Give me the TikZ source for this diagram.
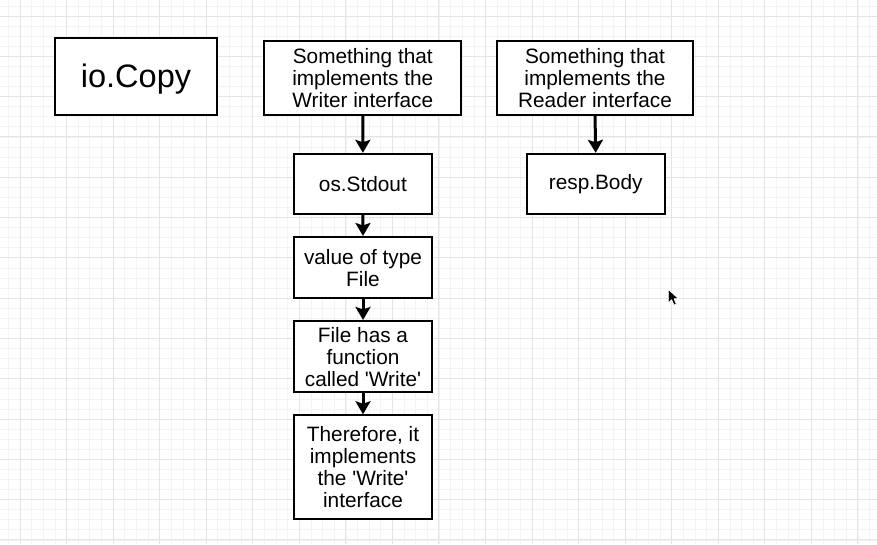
\documentclass[tikz,border=0pt]{standalone}
\usepackage{fontspec}
\setmainfont{Liberation Sans}
\usetikzlibrary{arrows.meta}
\newcommand{\sq}{\textquotesingle}
\begin{document}
\begin{tikzpicture}[x=1pt,y=-1pt,
  box/.style={draw=black,line width=2.2pt,fill=white,align=center,font=\fontsize{20.8}{22}\selectfont,inner sep=0pt},
  flow/.style={line width=3pt,-{Stealth[length=13pt,width=15pt,inset=2.5pt]}},
  minorgrid/.style={draw={rgb,255:red,243;green,243;blue,243},line width=0.7pt},
  majorgrid/.style={draw={rgb,255:red,228;green,228;blue,228},line width=1pt}]
\useasboundingbox (0,0) rectangle (877,544);
\fill[white] (0,0) rectangle (877,544);
% grid
\foreach \i in {-8,...,76} {\draw[minorgrid] ({20+11.6375*\i},0) -- ({20+11.6375*\i},544);}
\foreach \i in {-2,...,52} {\draw[minorgrid] (0,{16+10.075*\i}) -- (877,{16+10.075*\i});}
\foreach \i in {0,...,19} {\draw[majorgrid] ({20+46.55*\i},0) -- ({20+46.55*\i},544);}
\foreach \i in {0,...,13} {\draw[majorgrid] (0,{16+40.3*\i}) -- (877,{16+40.3*\i});}
% nodes
\node[box,minimum width=162pt,minimum height=77pt] (copy) at (136,76.5) {};
\node[font=\fontsize{32.5}{36}\selectfont,inner sep=0pt] (copytext) at (136,79) {io.Copy};
\node[box,minimum width=197pt,minimum height=74pt] (writer) at (362.8,77.7) {Something that\\implements the\\Writer interface};
\node[box,minimum width=138pt,minimum height=60pt] (stdout) at (362.9,183.9) {os.Stdout};
\node[box,minimum width=196pt,minimum height=74pt] (reader) at (595,77.7) {Something that\\implements the\\Reader interface};
\node[box,minimum width=138pt,minimum height=60pt] (body) at (595.7,183.9) {resp.Body};
\node[box,minimum width=138.6pt,minimum height=61.3pt] (value) at (363,267.7) {value of type\\File};
\node[box,minimum width=138.6pt,minimum height=71.3pt] (func) at (363,356.7) {File has a\\function\\called \sq Write\sq};
\node[box,minimum width=138.6pt,minimum height=103.7pt] (there) at (363,467.2) {Therefore, it\\implements\\the \sq Write\sq\\interface};
% connectors
\draw[flow] (writer.south) -- (stdout.north);
\draw[flow] (reader.south) -- (body.north);
\draw[flow] (stdout.south) -- (value.north);
\draw[flow] (value.south) -- (func.north);
\draw[flow] (func.south) -- (there.north);
% mouse cursor
\filldraw[fill=black,draw=white,line width=0.8pt,line join=round]
  (668.3,289.3) -- (668.3,303) -- (671.6,299.8) -- (674,305.2) -- (676.4,304.1) -- (674.1,298.8) -- (678.4,298.6) -- cycle;
\end{tikzpicture}
\end{document}
